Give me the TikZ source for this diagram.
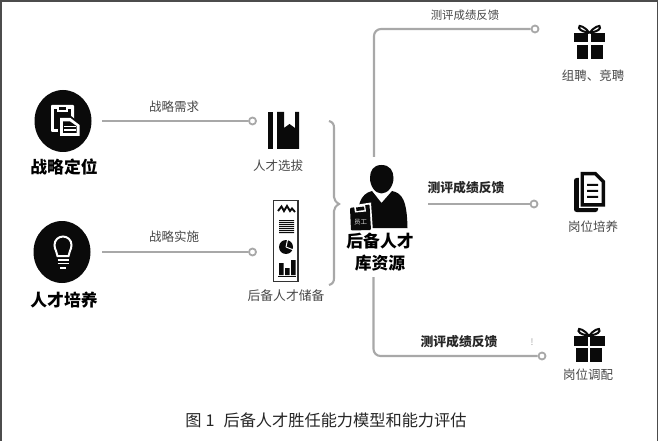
\documentclass[tikz,border=0pt]{standalone}
\usepackage{fontspec}
\setmainfont{Noto Sans CJK SC}
\usetikzlibrary{shapes.geometric}
\definecolor{conngray}{HTML}{A8A8A8}
\definecolor{lblgray}{HTML}{484848}
\definecolor{icon}{HTML}{0A0A0A}
\tikzset{
 conn/.style={draw=conngray,line width=2.1pt},
 dotnode/.style={circle,draw=conngray,line width=1.8pt,fill=white,minimum size=7pt,inner sep=0pt},
 lbl/.style={text=lblgray,font=\fontsize{12.5}{14}\selectfont,inner sep=0pt},
 lbldark/.style={text=black!85,font=\fontsize{12.8}{14}\selectfont\bfseries,inner sep=0pt},
 lblsmall/.style={text=lblgray,font=\fontsize{11.4}{13}\selectfont,inner sep=0pt},
 headt/.style={text=black,font=\fontsize{16.8}{22}\selectfont\bfseries,inner sep=0pt,align=center},
 iconfill/.style={fill=icon,draw=none},
 whitefill/.style={fill=white,draw=none},
 whiteline/.style={draw=white,line width=1.2pt},
 bowline/.style={draw=icon,line width=2pt},
 bigdisc/.style={ellipse,fill=icon,draw=none,minimum width=57pt,minimum height=62pt,inner sep=0pt}
}
\newcommand{\giftpic}[2]{%
 \begin{scope}[shift={(#1,#2)}]
 \fill[iconfill] (-15.5,-5) rectangle (15.5,4.5);
 \fill[iconfill] (-13,7) rectangle (13,21);
 \fill[whitefill] (-1.3,-5) rectangle (1.3,21);
 \draw[bowline] (0,-5) .. controls (-3,-10) and (-12,-15) .. (-10.5,-10) .. controls (-9.5,-7) and (-4,-6) .. (0,-5);
 \draw[bowline] (0,-5) .. controls (3,-10) and (12,-15) .. (10.5,-10) .. controls (9.5,-7) and (4,-6) .. (0,-5);
 \end{scope}}
\begin{document}
\begin{tikzpicture}[x=1pt,y=-1pt]
\useasboundingbox (0,0) rectangle (659,441);
\fill[white] (0,0) rectangle (659,441);
% frame
\draw[draw=black!70,line width=1.6pt] (0.8,441) -- (0.8,0.8) -- (657.6,0.8) -- (657.6,441);
% left circles
\node[bigdisc] (c1) at (63,121) {};
\node[bigdisc] (c2) at (62,252) {};
% clipboard icon
\fill[whitefill,rounded corners=1pt] (51,105) rectangle (74,132);
\fill[iconfill] (54,109) rectangle (71,129);
\fill[whitefill] (57,105) rectangle (68,112);
\fill[iconfill] (59,107.5) rectangle (66,110);
\fill[iconfill] (58,116) -- (71,116) -- (81,124) -- (81,138) -- (58,138) -- cycle;
\fill[whitefill] (60,118) -- (70.5,118) -- (79.5,125) -- (79.5,136) -- (60,136) -- cycle;
\fill[iconfill] (63,121.5) -- (70,121.5) -- (76.5,126) -- (76.5,133) -- (63,133) -- cycle;
\draw[whiteline] (64,126.5) -- (76,126.5);
\draw[whiteline] (64,130) -- (76,130);
% bulb icon
\draw[draw=white,line width=2pt] (57.5,256) .. controls (57.5,252) and (54.5,250) .. (54.5,245) .. controls (54.5,240) and (58.5,236.5) .. (63,236.5) .. controls (67.5,236.5) and (71.5,240) .. (71.5,245) .. controls (71.5,250) and (68.5,252) .. (68.5,256) -- cycle;
\draw[draw=white,line width=1.6pt] (57.5,260) -- (68.5,260) (57.5,263.5) -- (68.5,263.5);
\draw[draw=white,line width=2pt] (60,268) -- (66,268);
\node[headt] (zhanlue) at (64,167) {战略定位};
\node[headt] (peiyang) at (64,300) {人才培养};
% selection icon
\fill[iconfill] (268,112) rectangle (273,149);
\fill[iconfill] (277,112) -- (284,112) -- (284,128) -- (289.5,124) -- (295,128) -- (295,112) -- (299,112) -- (299,149) -- (277,149) -- cycle;
\node[lbl] (xuanba) at (278,166) {人才选拔};
% report icon
\draw[draw=black!80,line width=1.1pt] (273.5,200.5) rectangle (298,281.5);
\draw[draw=icon,line width=1.9pt] (278,211) -- (281.5,206.5) -- (284,211) -- (287,206) -- (290,211) -- (292,208.5) -- (295,212);
\fill[iconfill] (279,220) rectangle (294,221) (279,222) rectangle (294,223) (279,224) rectangle (294,225) (279,226) rectangle (294,227) (279,228) rectangle (294,229) (279,230) rectangle (294,231) (279,232) rectangle (294,233);
\fill[iconfill] (286,247) circle (7);
\draw[draw=white,line width=1pt] (286,247) -- (287.5,240) (286,247) -- (293.5,250);
\fill[iconfill] (279,263) rectangle (283.5,275) (285,268) rectangle (289.5,275) (291,260) rectangle (295.5,275);
\draw[draw=icon,line width=1pt] (278,276.5) -- (296,276.5);
\node[lbl,font=\fontsize{12.8}{14}\selectfont] (chubei) at (286,296) {后备人才储备};
% brace
\draw[conn] (329,121) .. controls (332.5,122) and (334,124) .. (334,128) -- (334,197) .. controls (334,200) and (336,202) .. (339,204) .. controls (336,206) and (334,208) .. (334,211) -- (334,278) .. controls (334,282) and (332.5,284) .. (329,285);
% left connectors
\coordinate (s1) at (102,121);
\coordinate (s2) at (102,252);
\node[dotnode] (d1) at (252.5,121) {};
\node[dotnode] (d2) at (252.5,252) {};
\draw[conn] (s1) -- (d1);
\draw[conn] (s2) -- (d2);
\node[lbl] (l1) at (174,107) {战略需求};
\node[lbl] (l2) at (174,237) {战略实施};
% person
\fill[iconfill] (381.5,165) .. controls (373,165) and (370,171) .. (370,178) .. controls (370,186) and (375,193.5) .. (381.5,193.5) .. controls (388,193.5) and (393.5,186) .. (393.5,178) .. controls (393.5,171) and (390,165) .. (381.5,165) -- cycle;
\fill[iconfill] (372,191) -- (381.5,203) -- (392,191) .. controls (402,193) and (407,200) .. (407.5,228) -- (357,228) .. controls (357,205) and (360,194) .. (372,191) -- cycle;
\fill[whitefill] (348.5,206) -- (371,202.5) -- (373,232) -- (348.5,232) -- cycle;
\fill[iconfill,rounded corners=1pt] (350,208) -- (369.5,204.5) -- (371,230) -- (351,230.5) -- cycle;
\fill[whitefill] (354,206) -- (365,204.5) -- (366,211.5) -- (355,212.5) -- cycle;
\fill[iconfill] (356,207.5) -- (364,206.5) -- (364.5,210) -- (356.5,211) -- cycle;
\node[inner sep=0pt,text=white!85!black,font=\fontsize{6.5}{7}\selectfont] (yuangong) at (360.5,222) {员工};
\node[headt] (ku) at (380,252) {后备人才\\库资源};
% right connectors
\coordinate (p1) at (374,157);
\coordinate (p2) at (428,204);
\coordinate (p3) at (373.5,277);
\node[dotnode] (d3) at (535,29) {};
\node[dotnode] (d4) at (534,204) {};
\node[dotnode] (d5) at (542,356) {};
\draw[conn,rounded corners=7pt] (p1) |- (d3);
\draw[conn] (p2) -- (d4);
\draw[conn,rounded corners=7pt] (p3) |- (d5);
\node[lblsmall] (l3) at (465,15) {测评成绩反馈};
\node[lbldark] (l4) at (466,188) {测评成绩反馈};
\node[lbldark] (l5) at (459,342) {测评成绩反馈};
\node[inner sep=0pt,text=black!35,font=\fontsize{9}{10}\selectfont] (mark) at (532,342) {!};
% right icons
\giftpic{589.5}{38}
\node[lbl] (r1) at (593,76) {组聘、竞聘};
% document icon
\fill[iconfill,rounded corners=2.5pt] (574,178) rectangle (598,212);
\fill[whitefill] (579,176) rectangle (601,208);
\fill[iconfill] (580.5,172) -- (596,172) -- (605,181) -- (605,206.5) -- (580.5,206.5) -- cycle;
\fill[whitefill] (584,175.5) -- (594.5,175.5) -- (601.5,182.5) -- (601.5,203) -- (584,203) -- cycle;
\fill[iconfill] (587,184) rectangle (598,186) (587,190) rectangle (598,192) (587,196) rectangle (598,198);
\node[lbl] (r2) at (593,227) {岗位培养};
\giftpic{589}{341}
\node[lbl] (r3) at (588,375) {岗位调配};
\node[inner sep=0pt,text=black!85,font=\fontsize{16.2}{18}\selectfont] (cap) at (326,420) {图\hspace{4pt}1\hspace{9pt}后备人才胜任能力模型和能力评估};
\end{tikzpicture}
\end{document}
